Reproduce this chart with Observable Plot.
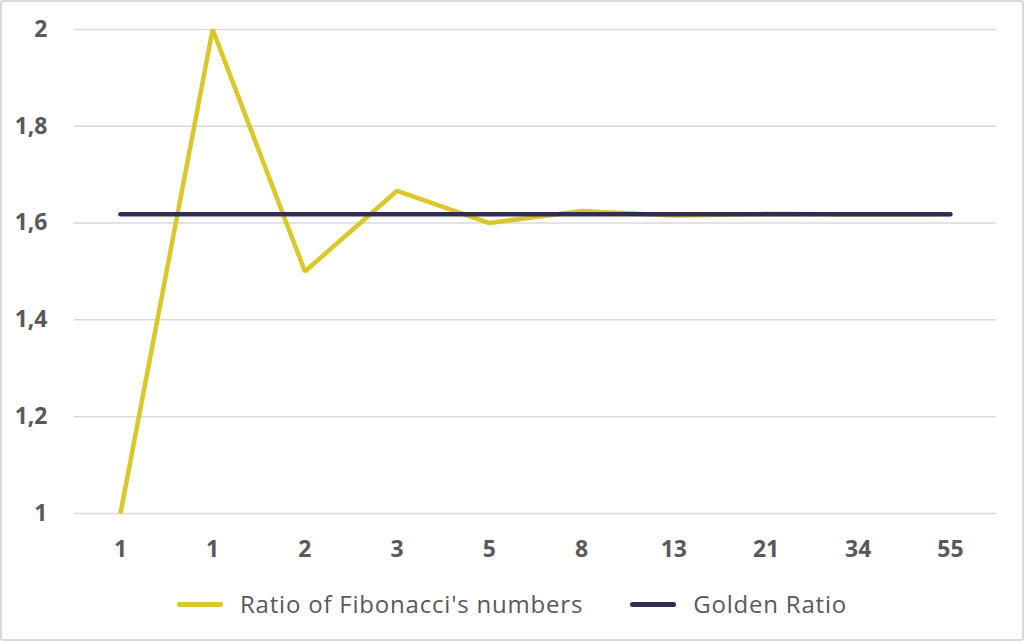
<!DOCTYPE html>
<html>
<head>
<meta charset="utf-8">
<script src="https://cdn.jsdelivr.net/npm/d3@7"></script>
<script src="https://cdn.jsdelivr.net/npm/@observablehq/plot@0.6"></script>
<style>
  html, body { margin: 0; padding: 0; background: #fff; }
  #frame {
    width: 1024px; height: 641px; box-sizing: border-box;
    border: 2px solid #d9d9d9; border-radius: 3px; position: relative; overflow: hidden;
    font-family: "Open Sans", sans-serif;
  }
  #chart { position: absolute; left: -2px; top: -2px; }
  #legend {
    position: absolute; left: -2px; top: 585px; width: 1024px; height: 34px;
    display: flex; justify-content: center; align-items: center; gap: 47px;
    font-size: 24px; letter-spacing: 0.8px; color: #595959; line-height: 34px;
  }
  .item { display: flex; align-items: center; gap: 17px; }
  .sw { width: 46px; height: 5px; border-radius: 3px; }
</style>
</head>
<body>
<div id="frame">
  <div id="chart"></div>
  <div id="legend"></div>
</div>
<script>
const categories = ["1", "1", "2", "3", "5", "8", "13", "21", "34", "55"];
const ratioValues = [1, 2, 1.5, 1.6667, 1.6, 1.625, 1.6154, 1.619, 1.6176, 1.6182];
const goldenValues = [1.618, 1.618, 1.618, 1.618, 1.618, 1.618, 1.618, 1.618, 1.618, 1.618];
const yTicks = [1, 1.2, 1.4, 1.6, 1.8, 2];
const seriesNames = ["Ratio of Fibonacci's numbers", "Golden Ratio"];
const seriesColors = ["#dcc72a", "#312d52"];

const idx = categories.map((_, i) => i);
const rows = idx.map(i => ({i, ratio: ratioValues[i], golden: goldenValues[i]}));
const fmt = v => String(v).replace(".", ",");

const chart = Plot.plot({
  width: 1024,
  height: 575,
  marginLeft: 74,
  marginRight: 26,
  marginTop: 29,
  marginBottom: 61,
  style: {fontFamily: "'Open Sans', sans-serif", background: "transparent"},
  x: {type: "point", domain: idx, padding: 0.5, round: false, label: null},
  y: {domain: [1, 2], label: null},
  marks: [
    Plot.gridY(yTicks, {stroke: "#d9d9d9", strokeOpacity: 1, strokeWidth: 1.5}),
    Plot.axisY(yTicks, {tickSize: 0, tickPadding: 27, tickFormat: fmt, fontSize: 23, fontWeight: 700, fill: "#595959", label: null}),
    Plot.axisX(idx, {tickSize: 0, tickPadding: 27, tickFormat: i => categories[i], fontSize: 23, fontWeight: 700, fill: "#595959", label: null}),
    Plot.line(rows, {x: "i", y: "ratio", stroke: seriesColors[0], strokeWidth: 4.5, strokeLinejoin: "miter", strokeLinecap: "butt"}),
    Plot.line(rows, {x: "i", y: "golden", stroke: seriesColors[1], strokeWidth: 4.5, strokeLinecap: "round"})
  ]
});
document.getElementById("chart").append(chart);

const legend = document.getElementById("legend");
seriesNames.forEach((name, k) => {
  const item = document.createElement("div");
  item.className = "item";
  const sw = document.createElement("div");
  sw.className = "sw";
  sw.style.background = seriesColors[k];
  const t = document.createElement("span");
  t.textContent = name;
  item.append(sw, t);
  legend.append(item);
});
</script>
</body>
</html>
